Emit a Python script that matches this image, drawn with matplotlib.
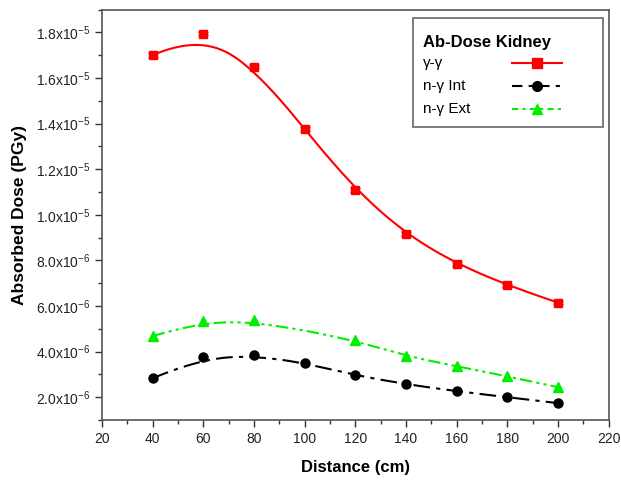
import numpy as np
import matplotlib
matplotlib.use("Agg")
import matplotlib.pyplot as plt
from matplotlib.ticker import MultipleLocator, FuncFormatter
from matplotlib.patches import Rectangle
from matplotlib.lines import Line2D

plt.rcParams['font.family'] = ['Liberation Sans', 'DejaVu Sans']
plt.rcParams['mathtext.default'] = 'regular'

dist = [40, 60, 80, 100, 120, 140, 160, 180, 200]
gg = [17.0e-6, 17.95e-6, 16.5e-6, 13.75e-6, 11.1e-6, 9.15e-6, 7.83e-6, 6.9e-6, 6.15e-6]
gg_err = [0.08e-6] * 9
ng_int = [2.83e-6, 3.75e-6, 3.84e-6, 3.5e-6, 2.96e-6, 2.57e-6, 2.26e-6, 2.0e-6, 1.74e-6]
dist_ext = [40, 60, 80, 120, 140, 160, 180, 200]
ng_ext = [4.68e-6, 5.33e-6, 5.38e-6, 4.5e-6, 3.8e-6, 3.36e-6, 2.92e-6, 2.44e-6]
legend_title = 'Ab-Dose Kidney'
labels = ['γ-γ', 'n-γ Int', 'n-γ Ext']


def bspline(xs, ys, k=3, num=300):
    P = np.column_stack([xs, ys]).astype(float)
    n = len(P)
    inner = np.arange(1, n - k)
    t = np.concatenate([[0] * (k + 1), inner, [n - k] * (k + 1)]).astype(float)
    u = np.linspace(0, n - k, num)
    u[-1] -= 1e-9
    def N(i, p, uu):
        if p == 0:
            return np.where((t[i] <= uu) & (uu < t[i + 1]), 1.0, 0.0)
        a = np.zeros_like(uu)
        d1 = t[i + p] - t[i]
        d2 = t[i + p + 1] - t[i + 1]
        if d1 > 0:
            a += (uu - t[i]) / d1 * N(i, p - 1, uu)
        if d2 > 0:
            a += (t[i + p + 1] - uu) / d2 * N(i + 1, p - 1, uu)
        return a
    C = np.zeros((num, 2))
    for i in range(n):
        C += N(i, k, u)[:, None] * P[i]
    return C[:, 0], C[:, 1]


RED = '#ff0000'
GREEN = '#00ee00'
ls_int = (0, (8, 3, 2, 3))
ls_ext = (0, (6, 2, 1.5, 2, 1.5, 2))

fig = plt.figure(figsize=(6.21, 4.8), dpi=100)
ax = fig.add_axes([0.164, 0.125, 0.816, 0.855])

cx, cy = bspline(dist, gg)
ax.plot(cx, cy, color=RED, lw=1.5, zorder=2)
ax.errorbar(dist, gg, yerr=gg_err, fmt='s', color=RED, ms=6,
            capsize=3.5, elinewidth=1, zorder=3)

cx, cy = bspline(dist, ng_int)
ax.plot(cx, cy, color='black', lw=1.5, ls=ls_int, zorder=2)
ax.plot(dist, ng_int, 'o', color='black', ms=6.5, zorder=3)

cx, cy = bspline(dist_ext, ng_ext)
ax.plot(cx, cy, color=GREEN, lw=1.5, ls=ls_ext, zorder=2)
ax.plot(dist_ext, ng_ext, '^', color=GREEN, ms=7, zorder=3)

ax.set_xlim(20, 220)
ax.set_ylim(1.0e-6, 1.9e-5)
ax.xaxis.set_major_locator(MultipleLocator(20))
ax.xaxis.set_minor_locator(MultipleLocator(10))
ax.yaxis.set_major_locator(MultipleLocator(2e-6))
ax.yaxis.set_minor_locator(MultipleLocator(1e-6))


def yfmt(v, pos):
    if v <= 0:
        return ''
    e = int(np.floor(np.log10(v) + 1e-9))
    m = v / 10 ** e
    return r'%.1fx10$^{%d}$' % (m, e)


ax.yaxis.set_major_formatter(FuncFormatter(yfmt))
ax.tick_params(which='both', direction='out', colors='#333333', labelcolor='#222222', labelsize=10)
ax.tick_params(which='major', length=5, width=1)
ax.tick_params(which='minor', length=3, width=1)
for s in ax.spines.values():
    s.set_color('#555555')
    s.set_linewidth(1.2)

ax.set_xlabel('Distance (cm)', fontsize=12, fontweight='bold', labelpad=10)
ax.set_ylabel('Absorbed Dose (PGy)', fontsize=12.5, fontweight='bold', labelpad=6)

# legend box (figure pixel coordinates -> figure fraction)
W, H = 621.0, 480.0
def fx(px):
    return px / W
def fy(py):
    return 1 - py / H

fig.patches.append(Rectangle((fx(413), fy(127)), fx(603) - fx(413), fy(18) - fy(127),
                             transform=fig.transFigure, facecolor='white',
                             edgecolor='#666666', lw=1.2, zorder=5))
fig.text(fx(423), fy(43), legend_title, fontsize=12, fontweight='bold',
         va='center', ha='left', zorder=6)
rows = [63, 86, 109]
styles = [dict(color=RED, ls='-', marker='s'),
          dict(color='black', ls=(0, (5, 3, 2, 3)), marker='o'),
          dict(color=GREEN, ls=(0, (3, 2, 1.5, 2)), marker='^')]
for lab, ry, st in zip(labels, rows, styles):
    fig.text(fx(423), fy(ry), lab, fontsize=11, va='center', ha='left', zorder=6)
    fig.lines.append(Line2D([fx(512), fx(562)], [fy(ry), fy(ry)], transform=fig.transFigure,
                            color=st['color'], ls=st['ls'], lw=1.5, zorder=6))
    fig.lines.append(Line2D([fx(537)], [fy(ry)], transform=fig.transFigure,
                            color=st['color'], marker=st['marker'], ms=7, ls='none', zorder=7))

fig.savefig('out.png', dpi=100)
